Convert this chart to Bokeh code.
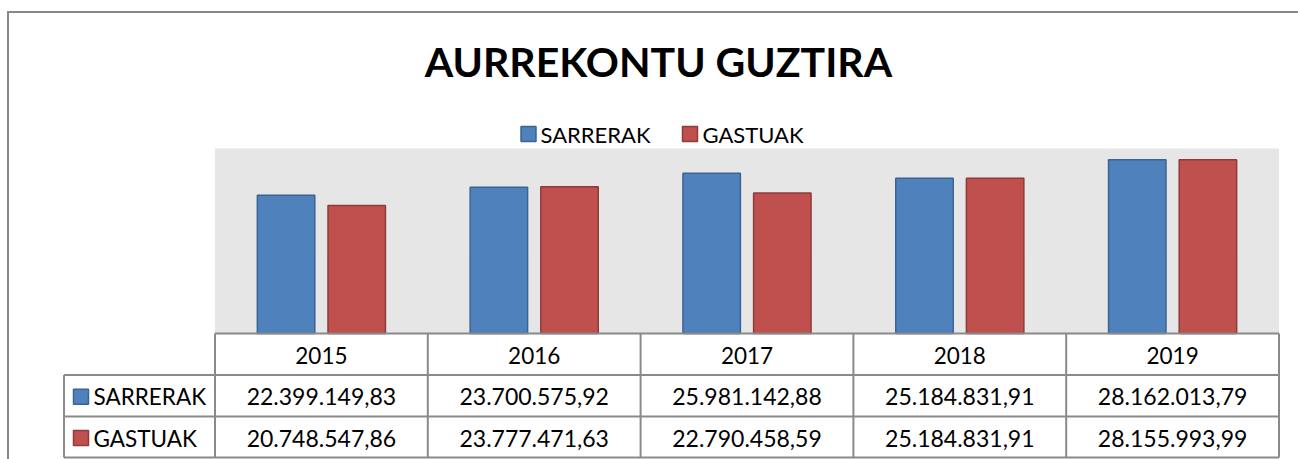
from bokeh.plotting import figure
from bokeh.models import Range1d
from bokeh.core.properties import value
from bokeh.embed import file_html
from bokeh.resources import INLINE
import numpy as np

# ---- data ----
years = ["2015", "2016", "2017", "2018", "2019"]
series_names = ["SARRERAK", "GASTUAK"]
sarrerak = [22399149.83, 23700575.92, 25981142.88, 25184831.91, 28162013.79]
gastuak = [20748547.86, 23777471.63, 22790458.59, 25184831.91, 28155993.99]
title_text = "AURREKONTU GUZTIRA"
y_max = 30000000

# ---- styles / layout (pixel layout in canvas coords, origin top-left) ----
W, H = 1298, 459
FONT = value("Lato")
BLUE, BLUE_EDGE = "#4F81BD", "#3A6494"
RED, RED_EDGE = "#C0504D", "#8E3B39"
GRID = "#8a8a8a"
PLOT_BG = "#E6E6E6"

PA_LEFT, PA_RIGHT = 214.5, 1278.5   # plot area / data columns
PA_TOP, PA_BOTTOM = 148, 333
LABEL_LEFT = 63.5
ROW_LINES = [333, 374.5, 416, 457]

n = len(years)
colw = (PA_RIGHT - PA_LEFT) / n
x0 = -PA_LEFT / colw
x1 = (W - PA_LEFT) / colw
s = y_max / (PA_BOTTOM - PA_TOP)
y0 = -(H - PA_BOTTOM) * s
y1 = PA_BOTTOM * s


def X(px):
    return x0 + px / W * (x1 - x0)


def Y(py):
    return y1 - py / H * (y1 - y0)


def fmt(v):
    return f"{v:,.2f}".replace(",", "X").replace(".", ",").replace("X", ".")


p = figure(width=W, height=H, x_range=Range1d(x0, x1), y_range=Range1d(y0, y1),
           x_axis_type=None, y_axis_type=None, toolbar_location=None,
           output_backend="svg", min_border=0, outline_line_color=None)
p.background_fill_color = "white"
p.border_fill_color = "white"

# outer chart border (top & left)
p.segment(x0=[X(6.5), X(7.5)], y0=[Y(11.5), Y(11.5)], x1=[X(W + 5), X(7.5)], y1=[Y(11.5), Y(H + 5)],
          line_color="#888888", line_width=2)

# title
p.text(x=[X(658)], y=[Y(61)], text=[title_text], text_font=FONT,
       text_font_style="bold", text_font_size="41px", text_align="center",
       text_baseline="middle", text_color="black")

# legend
leg_y = Y(133.5)
p.rect(x=[X(528)], y=[leg_y], width=15, height=15, width_units="screen",
       height_units="screen", fill_color=BLUE, line_color=BLUE_EDGE, line_width=1.5)
p.text(x=[X(540)], y=[leg_y], text=[series_names[0]], text_font=FONT,
       text_font_size="22px", text_baseline="middle", text_color="black")
p.rect(x=[X(689.5)], y=[leg_y], width=15, height=15, width_units="screen",
       height_units="screen", fill_color=RED, line_color=RED_EDGE, line_width=1.5)
p.text(x=[X(702)], y=[leg_y], text=[series_names[1]], text_font=FONT,
       text_font_size="22px", text_baseline="middle", text_color="black")

# plot area background
p.quad(left=[0], right=[n], bottom=[0], top=[y_max], fill_color=PLOT_BG, line_color=None)

# bars
idx = np.arange(n) + 0.5
off, bw = 0.166, 0.27
p.vbar(x=idx - off, top=sarrerak, width=bw, bottom=0, fill_color=BLUE,
       line_color=BLUE_EDGE, line_width=1.5)
p.vbar(x=idx + off, top=gastuak, width=bw, bottom=0, fill_color=RED,
       line_color=RED_EDGE, line_width=1.5)

# data table grid
hx0, hx1, hy0, hy1 = [], [], [], []
hx0.append(0); hx1.append(n); hy0.append(Y(ROW_LINES[0])); hy1.append(Y(ROW_LINES[0]))
for r in ROW_LINES[1:]:
    hx0.append(X(LABEL_LEFT)); hx1.append(n); hy0.append(Y(r)); hy1.append(Y(r))
for i in range(n + 1):
    hx0.append(i); hx1.append(i); hy0.append(Y(ROW_LINES[0])); hy1.append(Y(ROW_LINES[-1]))
hx0.append(X(LABEL_LEFT)); hx1.append(X(LABEL_LEFT))
hy0.append(Y(ROW_LINES[1])); hy1.append(Y(ROW_LINES[-1]))
p.segment(x0=hx0, y0=hy0, x1=hx1, y1=hy1, line_color=GRID, line_width=2)

# header texts
hy = Y((ROW_LINES[0] + ROW_LINES[1]) / 2 + 1)
p.text(x=idx, y=[hy] * n, text=years, text_font=FONT, text_font_size="22.5px",
       text_align="center", text_baseline="middle", text_color="black")

# value rows
rows = [(sarrerak, BLUE, BLUE_EDGE), (gastuak, RED, RED_EDGE)]
for k, (vals, fc, lc) in enumerate(rows):
    ry = Y((ROW_LINES[k + 1] + ROW_LINES[k + 2]) / 2 + 1)
    p.text(x=idx, y=[ry] * n, text=[fmt(v) for v in vals], text_font=FONT,
           text_font_size="23px", text_align="center", text_baseline="middle",
           text_color="black")
    p.rect(x=[X(80.5)], y=[ry], width=15, height=15, width_units="screen",
           height_units="screen", fill_color=fc, line_color=lc, line_width=1.5)
    p.text(x=[X(93)], y=[ry], text=[series_names[k]], text_font=FONT,
           text_font_size="22.5px", text_baseline="middle", text_color="black")

open("out.html", "w").write(file_html(p, INLINE))
